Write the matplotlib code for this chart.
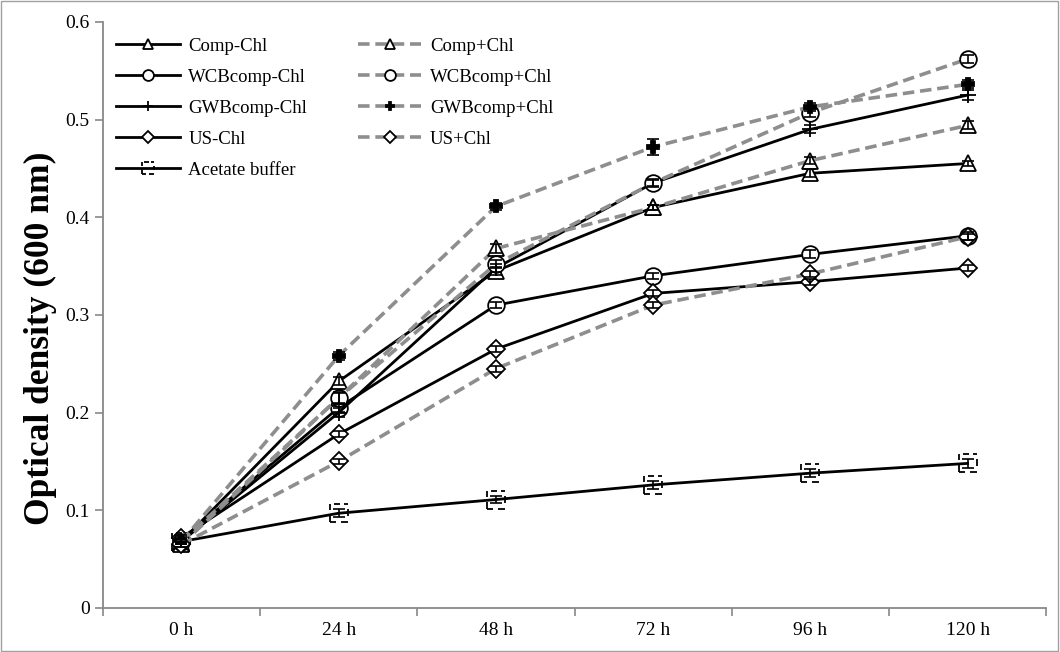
import matplotlib
matplotlib.use("Agg")
import matplotlib.pyplot as plt
from matplotlib.path import Path
from matplotlib.patches import Rectangle

plt.rcParams["font.family"] = ["Liberation Serif", "DejaVu Serif"]

hours = ["0 h", "24 h", "48 h", "72 h", "96 h", "120 h"]

comp_minus = [0.068, 0.232, 0.345, 0.410, 0.445, 0.455]
comp_plus = [0.065, 0.215, 0.368, 0.410, 0.458, 0.494]
wcb_minus = [0.070, 0.205, 0.310, 0.340, 0.362, 0.381]
wcb_plus = [0.068, 0.215, 0.352, 0.435, 0.507, 0.562]
gwb_minus = [0.068, 0.200, 0.348, 0.435, 0.490, 0.525]
gwb_plus = [0.068, 0.258, 0.411, 0.472, 0.513, 0.536]
us_minus = [0.072, 0.178, 0.265, 0.322, 0.334, 0.348]
us_plus = [0.065, 0.150, 0.245, 0.310, 0.342, 0.380]
acetate = [0.068, 0.097, 0.111, 0.126, 0.138, 0.148]

comp_minus_err = [0.003, 0.004, 0.004, 0.003, 0.004, 0.003]
comp_plus_err = [0.003, 0.005, 0.005, 0.003, 0.004, 0.004]
wcb_minus_err = [0.003, 0.004, 0.003, 0.003, 0.004, 0.004]
wcb_plus_err = [0.003, 0.006, 0.004, 0.004, 0.004, 0.004]
gwb_minus_err = [0.003, 0.005, 0.004, 0.003, 0.004, 0.005]
gwb_plus_err = [0.003, 0.004, 0.004, 0.008, 0.004, 0.004]
us_minus_err = [0.003, 0.003, 0.003, 0.003, 0.003, 0.003]
us_plus_err = [0.003, 0.003, 0.003, 0.003, 0.003, 0.003]
acetate_err = [0.003, 0.004, 0.004, 0.004, 0.004, 0.005]

# broken-outline square used for the buffer control
sq = [(-1, -1), (-1, -0.2), (-1, 0.3), (-1, 1), (-0.6, 1), (0.1, 1),
      (0.5, 1), (1, 1), (1, 0.4), (1, -0.3), (1, -1), (0.2, -1),
      (-0.3, -1), (-1, -1)]
codes = [Path.MOVETO, Path.LINETO, Path.MOVETO, Path.LINETO,
         Path.MOVETO, Path.LINETO, Path.MOVETO, Path.LINETO,
         Path.MOVETO, Path.LINETO, Path.MOVETO, Path.LINETO,
         Path.MOVETO, Path.LINETO]
broken_square = Path(sq, codes)

solid = dict(color="black", lw=2.0, ls="-")
dashed = dict(color="#8e8e8e", lw=2.6, ls=(0, (3.2, 1.6)))

series = [
    ("Comp-Chl", comp_minus, comp_minus_err, solid, "^", 12, "white"),
    ("WCBcomp-Chl", wcb_minus, wcb_minus_err, solid, "o", 12, "white"),
    ("GWBcomp-Chl", gwb_minus, gwb_minus_err, solid, "+", 12, "black"),
    ("US-Chl", us_minus, us_minus_err, solid, "D", 9, "white"),
    ("Acetate buffer", acetate, acetate_err, solid, broken_square, 13, "none"),
    ("Comp+Chl", comp_plus, comp_plus_err, dashed, "^", 12, "white"),
    ("WCBcomp+Chl", wcb_plus, wcb_plus_err, dashed, "o", 12, "white"),
    ("GWBcomp+Chl", gwb_plus, gwb_plus_err, dashed, "P", 8, "black"),
    ("US+Chl", us_plus, us_plus_err, dashed, "D", 9, "white"),
]

fig = plt.figure(figsize=(10.6, 6.52), dpi=100)
ax = fig.add_axes([0.097, 0.0675, 0.89, 0.899])
x = list(range(len(hours)))

handles = []
for label, y, err, style, marker, ms, face in series:
    ax.errorbar(x, y, yerr=err, fmt="none", ecolor="black", elinewidth=1.2,
                capsize=4, capthick=1.2, zorder=4)
    (h,) = ax.plot(x, y, marker=marker, ms=ms, mfc=face, mec="black",
                   mew=1.3, label=label, zorder=3, **style)
    handles.append(h)

ax.set_xlim(-0.5, len(hours) - 0.5)
ax.set_ylim(0, 0.6)
ax.set_yticks([0, 0.1, 0.2, 0.3, 0.4, 0.5, 0.6])
ax.set_yticklabels(["0", "0.1", "0.2", "0.3", "0.4", "0.5", "0.6"])
ax.set_xticks(x)
ax.set_xticklabels(hours)
ax.set_xticks([i + 0.5 for i in range(-1, len(hours))], minor=True)
ax.tick_params(axis="x", which="major", length=0, labelsize=14, pad=10)
ax.tick_params(axis="x", which="minor", length=6, color="#888888", width=1.2)
ax.tick_params(axis="y", length=6, color="#888888", width=1.2, labelsize=14)
for side in ("top", "right"):
    ax.spines[side].set_visible(False)
for side in ("left", "bottom"):
    ax.spines[side].set_color("#888888")
    ax.spines[side].set_linewidth(1.3)

ax.set_ylabel("Optical density (600 nm)", fontsize=25.5, fontweight="bold",
              va="center")
ax.yaxis.set_label_coords(-0.066, 0.46)

ax.legend(handles=handles, ncol=2, loc="upper left",
          bbox_to_anchor=(0.0, 0.995), frameon=False, fontsize=13.5,
          markerscale=0.65, handlelength=3.4, handletextpad=0.45,
          columnspacing=2.7, labelspacing=0.74, borderaxespad=0.3)

fig.patches.append(Rectangle((0.001, 0.001), 0.997, 0.997, fill=False,
                             edgecolor="#a0a0a0", lw=1.0,
                             transform=fig.transFigure))

fig.savefig("out.png", dpi=100)
